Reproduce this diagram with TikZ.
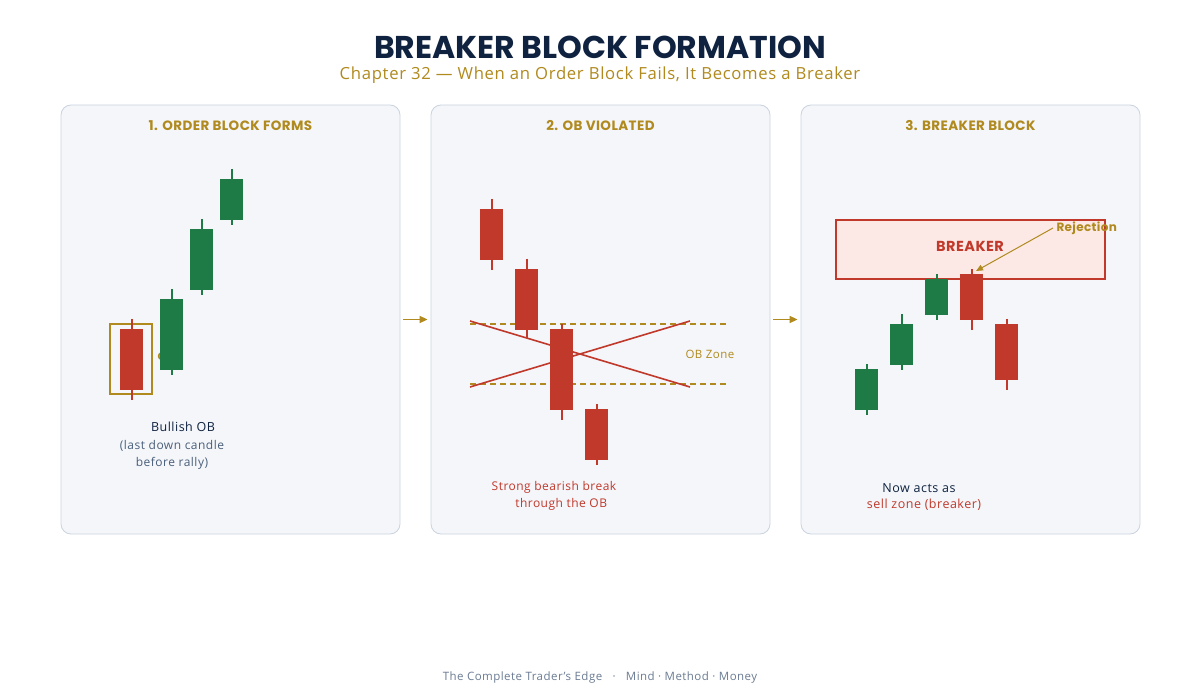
\documentclass[tikz,border=0pt]{standalone}
\usepackage{fontspec}
\setmainfont[LetterSpace=4]{Open Sans}
\newfontfamily\titlefont{Poppins}
\newfontfamily\headfont[LetterSpace=3]{Poppins}
\usetikzlibrary{arrows.meta,positioning,calc}
\definecolor{navy}{HTML}{0F2340}
\definecolor{gold}{HTML}{B08A1E}
\definecolor{bear}{HTML}{C0392B}
\definecolor{bull}{HTML}{1E7B45}
\definecolor{panelbg}{HTML}{F4F6FA}
\definecolor{panelline}{HTML}{CAD3DF}
\definecolor{slate}{HTML}{4A5F7A}
\definecolor{foot}{HTML}{6B7C93}
\definecolor{breakerbg}{HTML}{FCE9E6}

% x, wick top, body top, body bottom, wick bottom, colour
\newcommand{\candle}[6]{%
  \draw[#6, line width=2pt] (#1,#2) -- (#1,#5);
  \fill[#6] ({#1-11.5},#3) rectangle ({#1+11.5},#4);}

\tikzset{
  panel/.style={draw=panelline, fill=panelbg, rounded corners=10pt, line width=0.8pt,
    minimum width=339, minimum height=429, inner sep=0pt},
  paneltitle/.style={font=\headfont\bfseries\fontsize{13.5}{15}\selectfont, text=gold},
  flow/.style={-{Triangle[length=8pt,width=7pt]}, draw=gold, line width=1.6pt},
  note/.style={font=\fontsize{12}{17}\selectfont, align=center},
  lbl/.style={font=\fontsize{12.5}{15}\selectfont},
  obzone/.style={draw=gold, line width=1.2pt, dash pattern=on 6pt off 4pt},
}

\begin{document}
\begin{tikzpicture}[x=1pt, y=-1pt]
  \fill[white] (0,0) rectangle (1200,700);
  \useasboundingbox (0,0) rectangle (1200,700);

  \node[font=\titlefont\bfseries\fontsize{31.5}{36}\selectfont, text=navy, inner sep=0pt,
    text height=23pt, text depth=0pt, anchor=base] (title) at (600,58.5) {BREAKER BLOCK FORMATION};
  \node[font=\fontsize{16.7}{18}\selectfont, text=gold, inner sep=0pt,
    text height=12pt, text depth=4pt, anchor=base] (subtitle) at (600,80)
    {Chapter 32 — When an Order Block Fails, It Becomes a Breaker};

  % panels
  \node[panel] (p1) at (230.5,319.5) {};
  \node[panel] (p2) at (600.5,319.5) {};
  \node[panel] (p3) at (970.5,319.5) {};
  \node[paneltitle] (t1) at (230.5,126) {1. ORDER BLOCK FORMS};
  \node[paneltitle] (t2) at (600.5,126) {2. OB VIOLATED};
  \node[paneltitle] (t3) at (970.5,126) {3. BREAKER BLOCK};
  \draw[flow] ([xshift=3]p1.east) -- ([xshift=-3]p2.west);
  \draw[flow] ([xshift=3]p2.east) -- ([xshift=-3]p3.west);

  % 1. order block
  \node[font=\headfont\bfseries\fontsize{11}{13}\selectfont, text=gold, anchor=west] (oblabel) at (154,357) {OB};
  \draw[gold, line width=1.8pt] (110,324) rectangle (152,394);
  \candle{131.5}{319}{329}{390}{400}{bear}
  \candle{171.5}{289}{299}{370}{375}{bull}
  \candle{201.5}{219}{229}{290}{295}{bull}
  \candle{231.5}{169}{179}{220}{225}{bull}
  \node[lbl, text=navy] (bullish) at (183,427) {Bullish OB};
  \node[note, text=slate] (bullnote) at (172,455) {(last down candle\\before rally)};

  % 2. violated
  \draw[obzone] (470,324) -- (726,324);
  \draw[obzone] (470,384) -- (726,384);
  \draw[bear, line width=1.6pt] (470,321) -- (690,387);
  \draw[bear, line width=1.6pt] (470,387) -- (690,321);
  \candle{491.5}{199}{209}{260}{270}{bear}
  \candle{526.5}{259}{269}{330}{338}{bear}
  \candle{561.5}{324}{329}{410}{420}{bear}
  \candle{596.5}{404}{409}{460}{465}{bear}
  \node[font=\fontsize{11.5}{13}\selectfont, text=gold, anchor=west] (zonelbl) at (682,354) {OB Zone};
  \node[note, text=bear] (breaknote) at (554,496) {Strong bearish break\\\hspace*{1.2em}through the OB};

  % 3. breaker
  \node[draw=bear, fill=breakerbg, line width=2pt, minimum width=269, minimum height=59, inner sep=0pt] (brk) at (970.5,249.5) {};
  \node[font=\headfont\bfseries\fontsize{14.5}{16}\selectfont, text=bear] (brktext) at (970,246) {BREAKER};
  \candle{866.5}{364}{369}{410}{415}{bull}
  \candle{901.5}{314}{324}{365}{370}{bull}
  \candle{936.5}{274}{279}{315}{320}{bull}
  \candle{971.5}{269}{274}{320}{330}{bear}
  \candle{1006.5}{319}{324}{380}{390}{bear}
  \node[font=\headfont\bfseries\fontsize{12}{13}\selectfont, text=gold, anchor=west] (rej) at (1053,228) {Rejection};
  \coordinate (rejtip) at (976,271);
  \draw[gold, line width=1pt, -{Triangle[length=7pt,width=6pt]}] (rej.west) -- (rejtip);
  \node[lbl, text=navy] (acts) at (919,488) {Now acts as};
  \node[lbl, text=bear] (sellzone) at (924,505) {sell zone (breaker)};

  \node[font=\fontsize{11.5}{12}\selectfont, text=foot] (footer) at (600,678)
    {The Complete Trader's Edge ~~\textperiodcentered~~ Mind \textperiodcentered{} Method \textperiodcentered{} Money};
\end{tikzpicture}
\end{document}
